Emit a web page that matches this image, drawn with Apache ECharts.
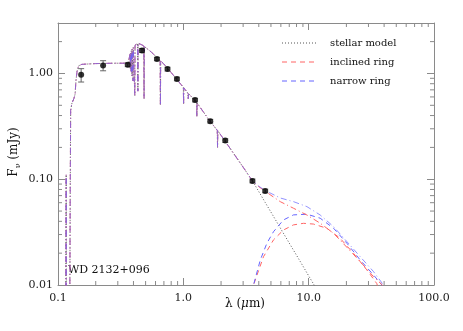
<!DOCTYPE html>
<html>
<head>
<meta charset="utf-8">
<script src="https://cdn.jsdelivr.net/npm/echarts@6/dist/echarts.min.js"></script>
<style>
html, body { margin: 0; padding: 0; background: #fff; }
#content { width: 463px; height: 331px; }
</style>
</head>
<body>
<div id="content"></div>
<script>
// photometry (lambda in micron, flux in mJy)
var photoLam = [0.153, 0.229, 0.36, 0.468, 0.616, 0.748, 0.889, 1.24, 1.64, 2.16, 3.56, 4.5];
var photoFlux = [0.97, 1.19, 1.21, 1.65, 1.37, 1.10, 0.888, 0.56, 0.354, 0.232, 0.0964, 0.0775];
var photoErr = [0.14, 0.13, 0.05, 0.07, 0.05, 0.045, 0.035, 0.022, 0.014, 0.009, 0.004, 0.003];

// stellar model, UV to 3.6 micron (shared by all model curves)
var stellarUV = [
    [0.1150, 0.004], [0.1162, 0.11], [0.1168, 0.004], [0.1240, 0.004], [0.1252, 0.08],
    [0.1262, 0.45], [0.1290, 0.52], [0.1340, 0.58], [0.1370, 0.64], [0.1390, 0.85],
    [0.1420, 1.05], [0.1460, 1.18], [0.1550, 1.22], [0.2000, 1.24], [0.2800, 1.25],
    [0.3400, 1.25], [0.3640, 1.24], [0.3700, 1.40], [0.3755, 1.52], [0.3771, 1.10],
    [0.3785, 1.56], [0.3821, 1.60], [0.3835, 1.05], [0.3849, 1.64], [0.3875, 1.68],
    [0.3889, 0.95], [0.3903, 1.70], [0.3955, 1.74], [0.3970, 0.85], [0.3985, 1.76],
    [0.4085, 1.82], [0.4101, 0.62], [0.4117, 1.85], [0.4322, 1.92], [0.4340, 0.68],
    [0.4358, 1.93], [0.4450, 1.97], [0.4600, 1.88], [0.4838, 1.82], [0.4861, 0.58],
    [0.4884, 1.80], [0.5000, 1.76], [0.5600, 1.58], [0.6200, 1.40], [0.6530, 1.32],
    [0.6563, 0.50], [0.6596, 1.31], [0.6900, 1.25], [0.8000, 1.02], [0.9000, 0.86],
    [1.0000, 0.74], [1.0050, 0.51], [1.0100, 0.73], [1.0880, 0.65], [1.0940, 0.58],
    [1.1000, 0.645], [1.2300, 0.56], [1.2760, 0.53], [1.2820, 0.39], [1.2880, 0.525],
    [1.6000, 0.365], [1.8650, 0.29], [1.8750, 0.20], [1.8850, 0.287], [2.1600, 0.228],
    [2.6000, 0.166], [3.0000, 0.130], [3.5600, 0.0964]
];
// stellar Rayleigh-Jeans tail (dotted line)
var stellarTail = [
    [4.0, 0.0764], [4.5, 0.0603], [5.0, 0.0489], [6.0, 0.0339], [7.0, 0.0249],
    [8.0, 0.0191], [9.0, 0.0151], [10.0, 0.0122], [11.0, 0.0101], [11.3, 0.0096]
];
// star + ring totals beyond 3.6 micron
var narrowTotalIR = [
    [4.0, 0.086], [4.5, 0.078], [5.0, 0.0735], [5.93, 0.0665], [7.56, 0.0614],
    [9.68, 0.0551], [12.36, 0.0459], [15.8, 0.0356], [20.2, 0.0257], [25.8, 0.0185],
    [32.9, 0.0134], [39.3, 0.0101], [40.0, 0.0097]
];
var inclinedTotalIR = [
    [4.0, 0.085], [4.5, 0.077], [5.0, 0.0705], [5.93, 0.0614], [7.56, 0.0532],
    [9.68, 0.0459], [12.36, 0.0384], [15.8, 0.0308], [20.2, 0.0227], [25.8, 0.0166],
    [32.9, 0.0120], [38.4, 0.0101], [39.0, 0.0097]
];
// ring emission alone
var narrowRing = [
    [3.55, 0.0085], [3.63, 0.0100], [4.11, 0.0172], [4.64, 0.0248], [5.24, 0.0319],
    [6.29, 0.0412], [7.56, 0.0460], [9.68, 0.0467], [12.36, 0.0428], [15.8, 0.0344],
    [20.2, 0.0248], [25.8, 0.0172], [32.9, 0.01245], [38.4, 0.0100], [39.0, 0.0096]
];
var inclinedRing = [
    [3.55, 0.0085], [3.63, 0.0100], [4.36, 0.0185], [5.24, 0.0267], [6.29, 0.0331],
    [7.56, 0.0370], [9.09, 0.0383], [10.9, 0.0377], [13.96, 0.0344], [17.8, 0.0277],
    [22.8, 0.0199], [29.1, 0.0139], [35.0, 0.0103], [35.5, 0.0097]
];

var xMin = 0.1, xMax = 100, yMin = 0.01, yMax = 3.0;

// minor ticks 2..9 per decade
var xMinor = [], yMinor = [];
[0.1, 1, 10].forEach(function (d) {
    for (var m = 2; m <= 9; m++) xMinor.push([m * d, yMin]);
});
[0.01, 0.1, 1].forEach(function (d) {
    for (var m = 2; m <= 9; m++) if (m * d < yMax) yMinor.push([xMin, m * d]);
});

var photoData = photoLam.map(function (l, i) { return [l, photoFlux[i]]; });
var errData = photoLam.map(function (l, i) {
    return [l, photoFlux[i] - photoErr[i], photoFlux[i] + photoErr[i]];
});

var RED = '#ff6464', BLUE = '#6464ff', FRAME = '#8a8a8a';
var serif = 'DejaVu Serif';

function isPow10(v) {
    var l = Math.log(v) / Math.LN10;
    return Math.abs(l - Math.round(l)) < 1e-6;
}

function axisBase(extra) {
    var a = {
        type: 'log',
        logBase: 10,
        axisLine: { show: true, onZero: false, lineStyle: { color: FRAME, width: 1 } },
        axisTick: { show: true, inside: true, length: 7, lineStyle: { color: FRAME } },
        splitLine: { show: false },
        minorTick: { show: false }
    };
    for (var k in extra) a[k] = extra[k];
    return a;
}

var myChart = echarts.init(document.getElementById('content'));
myChart.setOption({
    animation: false,
    backgroundColor: '#fff',
    grid: { left: 58, right: 29, top: 23, bottom: 46, containLabel: false },
    xAxis: [
        axisBase({
            position: 'bottom', min: xMin, max: xMax,
            axisLabel: {
                margin: 8, color: '#222', fontFamily: serif, fontSize: 11,
                formatter: function (v) {
                    if (!isPow10(v)) return '';
                    return v < 1 ? '0.1' : Math.round(v).toFixed(1);
                }
            }
        }),
        axisBase({ position: 'top', min: xMin, max: xMax, axisLabel: { show: false } })
    ],
    yAxis: [
        axisBase({
            position: 'left', min: yMin, max: yMax,
            axisLabel: {
                margin: 5, color: '#222', fontFamily: serif, fontSize: 11,
                formatter: function (v) {
                    if (!isPow10(v)) return '';
                    return v.toFixed(2);
                }
            }
        }),
        axisBase({ position: 'right', min: yMin, max: yMax, axisLabel: { show: false } })
    ],
    series: [
        {
            name: 'stellar model', type: 'line', showSymbol: false, symbol: 'none',
            data: stellarUV.concat(stellarTail),
            lineStyle: { color: '#555', width: 1, type: [1, 2] }, z: 2
        },
        {
            name: 'inclined ring', type: 'line', symbol: 'none', data: inclinedRing,
            lineStyle: { color: RED, width: 1, type: [5, 4] }, z: 3
        },
        {
            name: 'narrow ring', type: 'line', symbol: 'none', data: narrowRing,
            lineStyle: { color: BLUE, width: 1, type: [5, 4] }, z: 3
        },
        {
            name: 'inclined total', type: 'line', symbol: 'none',
            data: stellarUV.concat(inclinedTotalIR),
            lineStyle: { color: RED, width: 1, type: [6, 3, 1, 3] }, z: 4
        },
        {
            name: 'narrow total', type: 'line', symbol: 'none',
            data: stellarUV.concat(narrowTotalIR),
            lineStyle: { color: BLUE, width: 1, opacity: 0.7, type: [6, 3, 1, 3] }, z: 5
        },
        {
            name: 'xminor', type: 'custom', silent: true, data: xMinor, z: 6,
            renderItem: function (params, api) {
                var p = api.coord([api.value(0), yMin]);
                var cs = params.coordSys;
                return {
                    type: 'group', children: [
                        { type: 'line', shape: { x1: p[0], y1: cs.y + cs.height, x2: p[0], y2: cs.y + cs.height - 4 }, style: { stroke: FRAME, lineWidth: 1 } },
                        { type: 'line', shape: { x1: p[0], y1: cs.y, x2: p[0], y2: cs.y + 4 }, style: { stroke: FRAME, lineWidth: 1 } }
                    ]
                };
            }
        },
        {
            name: 'yminor', type: 'custom', silent: true, data: yMinor, z: 6,
            renderItem: function (params, api) {
                var p = api.coord([xMin, api.value(1)]);
                var cs = params.coordSys;
                return {
                    type: 'group', children: [
                        { type: 'line', shape: { x1: cs.x, y1: p[1], x2: cs.x + 4, y2: p[1] }, style: { stroke: FRAME, lineWidth: 1 } },
                        { type: 'line', shape: { x1: cs.x + cs.width, y1: p[1], x2: cs.x + cs.width - 4, y2: p[1] }, style: { stroke: FRAME, lineWidth: 1 } }
                    ]
                };
            }
        },
        {
            name: 'errors', type: 'custom', silent: true, data: errData, z: 7,
            renderItem: function (params, api) {
                var lo = api.coord([api.value(0), api.value(1)]);
                var hi = api.coord([api.value(0), api.value(2)]);
                var s = { stroke: '#666', lineWidth: 1 };
                return {
                    type: 'group', children: [
                        { type: 'line', shape: { x1: lo[0], y1: lo[1], x2: hi[0], y2: hi[1] }, style: s },
                        { type: 'line', shape: { x1: lo[0] - 3, y1: lo[1], x2: lo[0] + 3, y2: lo[1] }, style: s },
                        { type: 'line', shape: { x1: hi[0] - 3, y1: hi[1], x2: hi[0] + 3, y2: hi[1] }, style: s }
                    ]
                };
            }
        },
        {
            name: 'photometry', type: 'scatter', data: photoData, symbol: 'circle', symbolSize: 6,
            itemStyle: { color: '#000' }, z: 8
        }
    ],
    graphic: [
        { type: 'line', shape: { x1: 282, y1: 43, x2: 317, y2: 43 }, style: { stroke: '#555', lineWidth: 1, lineDash: [1, 2] } },
        { type: 'text', x: 330, y: 43, style: { text: 'stellar model', font: '10px "DejaVu Serif"', fill: '#111', verticalAlign: 'middle' } },
        { type: 'line', shape: { x1: 282, y1: 62, x2: 317, y2: 62 }, style: { stroke: RED, lineWidth: 1, lineDash: [5, 4] } },
        { type: 'text', x: 330, y: 62, style: { text: 'inclined ring', font: '10px "DejaVu Serif"', fill: '#111', verticalAlign: 'middle' } },
        { type: 'line', shape: { x1: 282, y1: 81, x2: 317, y2: 81 }, style: { stroke: BLUE, lineWidth: 1, lineDash: [5, 4] } },
        { type: 'text', x: 330, y: 81, style: { text: 'narrow ring', font: '10px "DejaVu Serif"', fill: '#111', verticalAlign: 'middle' } },
        { type: 'text', x: 68, y: 270, style: { text: 'WD 2132+096', font: '11px "DejaVu Serif"', fill: '#111', verticalAlign: 'middle' } },
        {
            type: 'text', x: 245, y: 304,
            style: {
                text: 'λ ({i|μ}m)', font: '12px "DejaVu Serif"', fill: '#111', align: 'center', verticalAlign: 'middle',
                rich: { i: { fontStyle: 'italic', fontFamily: serif, fontSize: 12 } }
            }
        },
        {
            type: 'text', x: 14, y: 152, rotation: Math.PI / 2,
            style: {
                text: 'F{s|ν} (mJy)', font: '12px "DejaVu Serif"', fill: '#111', align: 'center', verticalAlign: 'middle',
                rich: { s: { fontFamily: serif, fontSize: 8, padding: [8, 0, 0, 0] } }
            }
        }
    ]
});
</script>
</body>
</html>
